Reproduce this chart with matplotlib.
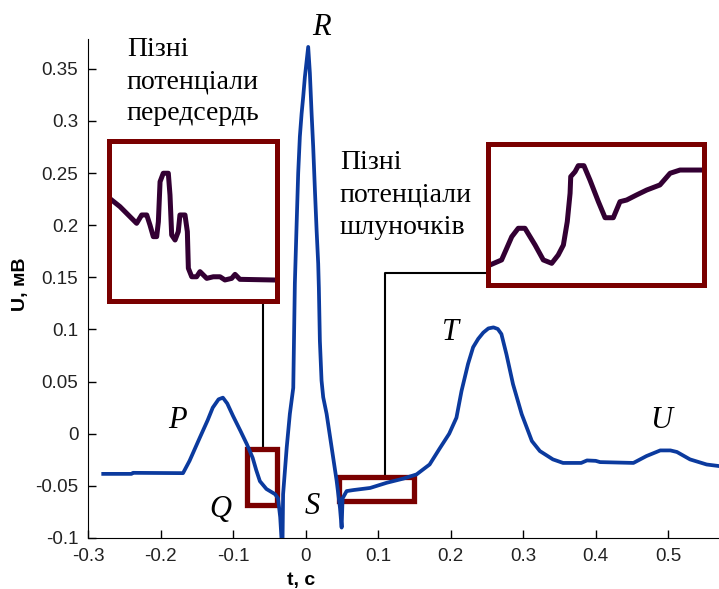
import numpy as np
import matplotlib
matplotlib.use('Agg')
import matplotlib.pyplot as plt
from matplotlib.patches import Rectangle

# ECG cycle, time in s, amplitude in mV
t = [-0.279, -0.240, -0.238, -0.169, -0.160, -0.146, -0.135, -0.128, -0.120,
     -0.114, -0.108, -0.100, -0.090, -0.081, -0.073, -0.068, -0.063, -0.054,
     -0.042, -0.038, -0.035, -0.032, -0.031, -0.026, -0.0217, -0.017,
     -0.0148, -0.0124, -0.0102, -0.0079, -0.0055, -0.0033, -0.001, 0.0036,
     0.0059, 0.0083, 0.0105, 0.0129, 0.0152, 0.0174, 0.0183, 0.0197, 0.0220,
     0.0243, 0.0290, 0.0359, 0.0428, 0.0474, 0.0497, 0.051, 0.0566, 0.066,
     0.089, 0.112, 0.135, 0.153, 0.171, 0.185, 0.198, 0.208, 0.215, 0.224,
     0.231, 0.238, 0.245, 0.252, 0.259, 0.265, 0.270, 0.277, 0.286, 0.298,
     0.312, 0.323, 0.341, 0.355, 0.380, 0.388, 0.400, 0.406, 0.452, 0.470,
     0.489, 0.503, 0.512, 0.530, 0.553, 0.570]
u = [-0.0385, -0.0385, -0.0375, -0.0378, -0.026, -0.004, 0.013, 0.025, 0.033,
     0.0346, 0.029, 0.017, 0.003, -0.010, -0.023, -0.035, -0.0455, -0.053,
     -0.058, -0.062, -0.080, -0.115, -0.058, -0.013, 0.019, 0.044,
     0.144, 0.200, 0.250, 0.285, 0.307, 0.323, 0.342, 0.371,
     0.346, 0.307, 0.275, 0.233, 0.195, 0.163, 0.140, 0.089, 0.051,
     0.035, 0.019, -0.013, -0.045, -0.071, -0.090, -0.062, -0.055, -0.054,
     -0.052, -0.047, -0.043, -0.039, -0.0295, -0.014, 0.000, 0.0154, 0.041,
     0.067, 0.083, 0.091, 0.097, 0.101, 0.102, 0.1005, 0.0956, 0.076, 0.0475,
     0.0187, -0.007, -0.0166, -0.0246, -0.028, -0.028, -0.0256, -0.026,
     -0.0272, -0.028, -0.0214, -0.016, -0.016, -0.0175, -0.0246, -0.0295,
     -0.031]

# zoomed late potentials (relative units, 0..100 in each frame)
atr_x = [1.6, 6.5, 16.4, 19.4, 22.4, 24.3, 26.3, 28.3, 29.3, 30.3, 32.2, 35.2,
         36.2, 37.2, 39.2, 41.1, 42.1, 45.1, 46.5, 47.1, 49.1, 52.0, 54.0,
         58.0, 61.9, 65.9, 68.8, 72.8, 74.8, 77.7, 97.5]
atr_y = [62.9, 58.8, 48.4, 53.6, 53.6, 47.4, 40.1, 40.1, 49.4, 74.3, 79.6,
         79.6, 66.0, 41.1, 38.0, 43.2, 53.6, 53.6, 43.2, 20.4, 15.1, 15.1,
         18.3, 14.1, 15.1, 15.1, 13.1, 14.1, 16.6, 13.5, 13.1]
vent_x = [0.9, 6.3, 11.0, 14.0, 17.1, 21.8, 25.6, 29.5, 32.5, 34.9, 36.7,
          38.0, 38.3, 40.3, 41.8, 44.4, 47.2, 51.1, 54.2, 58.0, 61.1, 64.2,
          68.8, 73.5, 79.6, 84.3, 88.9, 99.0]
vent_y = [14.0, 17.6, 34.1, 40.1, 40.1, 28.2, 17.6, 15.2, 21.1, 28.2, 44.8,
          65.0, 76.8, 80.3, 84.6, 84.6, 74.4, 59.0, 47.6, 47.6, 59.0, 60.2,
          63.8, 67.3, 70.9, 79.2, 81.5, 81.5]

# marked segments (t0, t1, u0, u1)
q_box = [-0.081, -0.040, -0.0686, -0.0142]
s_box = [0.0457, 0.149, -0.0642, -0.0419]

xticks = [-0.3, -0.2, -0.1, 0, 0.1, 0.2, 0.3, 0.4, 0.5]
xtick_labels = ['-0.3', '-0.2', '-0.1', '0', '0.1', '0.2', '0.3', '0.4', '0.5']
yticks = [-0.1, -0.05, 0, 0.05, 0.1, 0.15, 0.2, 0.25, 0.3, 0.35]
ytick_labels = ['-0.1', '-0.05', '0', '0.05', '0.1', '0.15', '0.2', '0.25',
                '0.3', '0.35']

waves = ['P', 'Q', 'R', 'S', 'T', 'U']
wave_t = [-0.177, -0.118, 0.0225, 0.0094, 0.200, 0.490]
wave_u = [0.0058, -0.080, 0.3824, -0.077, 0.090, 0.0058]

ecg_color = '#0b3a9e'
frame_color = '#7a0000'
zoom_color = '#330033'

fig = plt.figure(figsize=(7.19, 5.89), dpi=100)
ax = fig.add_axes([88 / 719, 51 / 589, 631 / 719, 499 / 589])

for r in (q_box, s_box):
    ax.add_patch(Rectangle((r[0], r[2]), r[1] - r[0], r[3] - r[2], fill=False,
                           edgecolor=frame_color, lw=3.8, zorder=2))

ax.plot(t, u, color=ecg_color, lw=2.7, zorder=3)

# leader lines to the zoomed frames
ax.plot([-0.0589, -0.0589], [q_box[3], 0.1266], color='k', lw=1.5,
        clip_on=False, zorder=1)
ax.plot([0.1094, 0.1094, 0.2514], [s_box[3], 0.1538, 0.1538], color='k',
        lw=1.5, clip_on=False, zorder=1)

ax.set_xlim(-0.3, 0.570)
ax.set_ylim(-0.1, 0.3786)
ax.spines['top'].set_visible(False)
ax.spines['right'].set_visible(False)
ax.set_xticks(xticks)
ax.set_xticklabels(xtick_labels)
ax.set_yticks(yticks)
ax.set_yticklabels(ytick_labels)
ax.tick_params(direction='in', length=6, width=1, labelsize=13.5,
               labelcolor='#222222')
ax.tick_params(axis='x', pad=7)
ax.tick_params(axis='y', pad=7)
for lab in ax.get_xticklabels() + ax.get_yticklabels():
    lab.set_family('Liberation Sans')

for name, tx, ux in zip(waves, wave_t, wave_u):
    ax.text(tx, ux, name, ha='center', va='baseline', fontsize=22,
            family='Liberation Serif', style='italic')

# baseline of the last line
ax.text(-0.2464, 0.3007, 'Пізні\nпотенціали\nпередсердь', ha='left',
        va='baseline', fontsize=20, family='Liberation Serif', linespacing=1.38)
ax.text(0.0473, 0.1920, 'Пізні\nпотенціали\nшлуночків', ha='left',
        va='baseline', fontsize=20, family='Liberation Serif', linespacing=1.38)

fig.text(21 / 719, 1 - 284 / 589, 'U, мВ', rotation=90, ha='center',
         va='center', fontsize=14, fontweight='bold', family='Liberation Sans')
fig.text(301 / 719, 1 - 580 / 589, 't, c', ha='center', va='center',
         fontsize=14, fontweight='bold', family='Liberation Sans')

# zoomed frames
for rect, zx, zy in [([109 / 719, 1 - 301 / 589, 168.5 / 719, 160.5 / 589],
                      atr_x, atr_y),
                     ([488 / 719, 1 - 284.7 / 589, 216 / 719, 140.7 / 589],
                      vent_x, vent_y)]:
    ins = fig.add_axes(rect)
    ins.plot(zx, zy, color=zoom_color, lw=3.6)
    ins.set_xlim(0, 100)
    ins.set_ylim(0, 100)
    ins.set_xticks([])
    ins.set_yticks([])
    for sp in ins.spines.values():
        sp.set_color(frame_color)
        sp.set_linewidth(3.6)

fig.savefig('out.png', dpi=100)
